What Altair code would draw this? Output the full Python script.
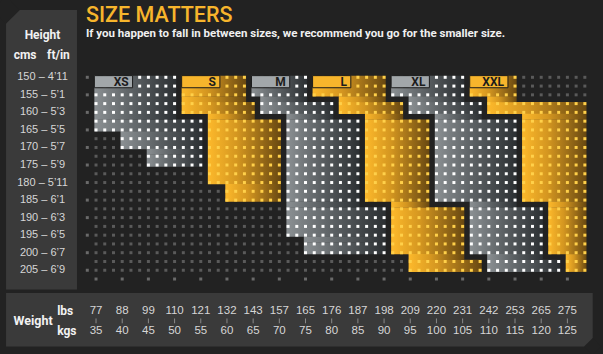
import altair as alt
import pandas as pd

# ---------------- data ----------------
HEIGHT_CM = [150, 155, 160, 165, 170, 175, 180, 185, 190, 195, 200, 205]
HEIGHT_FT = ["4’11", "5’1", "5’3", "5’5", "5’7", "5’9", "5’11", "6’1", "6’3", "6’5", "6’7", "6’9"]
WEIGHT_LBS = [77, 88, 99, 110, 121, 132, 143, 157, 165, 176, 187, 198, 209, 220, 231, 242, 253, 265, 275]
WEIGHT_KGS = [35, 40, 45, 50, 55, 60, 65, 70, 75, 80, 85, 90, 95, 100, 105, 110, 115, 120, 125]

SIZES = ["XS", "S", "M", "L", "XL", "XXL"]
SIZE_TONE = ["grey", "yellow", "grey", "yellow", "grey", "yellow"]
# each band of a size: (first dot row, last dot row, first dot column, last dot column)
# (3 dot columns per weight step, 2 dot rows per height step)
BANDS_XS = [(0, 4, 0, 9), (5, 6, 0, 12), (7, 8, 3, 12), (9, 10, 6, 12)]
BANDS_S = [(0, 2, 10, 17), (3, 4, 10, 18), (5, 12, 13, 21), (13, 14, 15, 21)]
BANDS_M = [(0, 2, 18, 24), (3, 4, 19, 27), (5, 14, 22, 30), (15, 18, 22, 33), (19, 20, 24, 33)]
BANDS_L = [(0, 2, 25, 33), (3, 4, 28, 35), (5, 14, 31, 38), (15, 20, 34, 42), (21, 22, 36, 44)]
BANDS_XL = [(0, 2, 34, 42), (3, 4, 36, 44), (5, 14, 39, 48), (15, 20, 43, 51), (21, 22, 45, 53)]
BANDS_XXL = [(0, 2, 43, 48), (3, 4, 45, 56), (5, 14, 49, 56), (15, 20, 52, 56), (21, 22, 54, 56)]
SIZE_BANDS = [BANDS_XS, BANDS_S, BANDS_M, BANDS_L, BANDS_XL, BANDS_XXL]

TITLE = "SIZE MATTERS"
SUBTITLE = "If you happen to fall in between sizes, we recommend you go for the smaller size."

# ---------------- layout / style ----------------
DOTS_PER_WEIGHT = 3
DOTS_PER_HEIGHT = 2
N_DOT_COLS = DOTS_PER_WEIGHT * (len(WEIGHT_LBS) - 1) + 3
N_DOT_ROWS = DOTS_PER_HEIGHT * (len(HEIGHT_CM) - 1) + 1
P = 0.19  # padding of a region around its dots (dot units)

BG = "#222222"
PANEL = "#3a3a3a"
YELLOW = "#f7b52c"
GREY_GRAD = alt.LinearGradient(
    gradient="linear", x1=0, x2=1, y1=0, y2=0,
    stops=[alt.GradientStop(offset=0, color="#8b9093"),
           alt.GradientStop(offset=0.45, color="#5d6265"),
           alt.GradientStop(offset=1, color="#2c3033")])
YELLOW_GRAD = alt.LinearGradient(
    gradient="linear", x1=0, x2=1, y1=0, y2=0,
    stops=[alt.GradientStop(offset=0, color="#fdb92b"),
           alt.GradientStop(offset=0.4, color="#d49620"),
           alt.GradientStop(offset=1, color="#684811")])

X_SCALE = alt.Scale(domain=[-11.0, 58.08], nice=False, zero=False)
Y_SCALE = alt.Scale(domain=[-8.814, 31.55], nice=False, zero=False, reverse=True)


def xq(f):
    return alt.X(f, type="quantitative", scale=X_SCALE, axis=None)


def yq(f):
    return alt.Y(f, type="quantitative", scale=Y_SCALE, axis=None)


# ---------------- derived tables ----------------
band_rows = []
for size, tone, bands in zip(SIZES, SIZE_TONE, SIZE_BANDS):
    for r1, r2, ka, kb in bands:
        band_rows.append(dict(size=size, tone=tone, x=ka - P, x2=kb + P, y=r1 - P, y2=r2 + P))
    for b1, b2 in zip(bands, bands[1:]):
        lo, hi = max(b1[2], b2[2]), min(b1[3], b2[3])
        if lo <= hi:
            band_rows.append(dict(size=size, tone=tone, x=lo - P, x2=hi + P,
                                  y=b1[1] + P - 0.03, y2=b2[0] - P + 0.03))
bands_df = pd.DataFrame(band_rows)


def tone_at(k, j):
    for tone, bands in zip(SIZE_TONE, SIZE_BANDS):
        for r1, r2, ka, kb in bands:
            if r1 <= j <= r2 and ka <= k <= kb:
                return tone
    return "bg"


dot_rows = []
for j in range(N_DOT_ROWS):
    for k in range(N_DOT_COLS):
        dot_rows.append(dict(k=k, j=j, tone=tone_at(k, j)))
for r in range(len(HEIGHT_CM)):
    dot_rows.append(dict(k=-1, j=DOTS_PER_HEIGHT * r, tone="tick"))
for i in range(len(WEIGHT_LBS)):
    dot_rows.append(dict(k=DOTS_PER_WEIGHT * i, j=N_DOT_ROWS, tone="tick"))
dots_df = pd.DataFrame(dot_rows)

box_rows = []
for size, tone, bands in zip(SIZES, SIZE_TONE, SIZE_BANDS):
    k0 = bands[0][2]
    box_rows.append(dict(size=size, tone=tone, x=k0 - P, x2=k0 + 4 + P, y=-P, y2=1 + P,
                         tx=k0 + 4 + P - 0.45, ty=0.5))
boxes_df = pd.DataFrame(box_rows)

# side panels (rectangles) and their cut corners (diamonds in background colour)
panel_df = pd.DataFrame(dict(
    x=[-10.31, -10.31], x2=[-2.18, 56.9], y=[-7.67, 24.6], y2=[24.2, 30.7]))
corner_df = pd.DataFrame(dict(x=[-10.31, 56.9], y=[-7.67, 30.7], s=[760, 300]))

height_df = pd.DataFrame(dict(
    x=[-6.13] * len(HEIGHT_CM),
    y=[DOTS_PER_HEIGHT * r for r in range(len(HEIGHT_CM))],
    t=[f"{c} – {f}" for c, f in zip(HEIGHT_CM, HEIGHT_FT)]))

Y_LBS, Y_KGS, Y_TICK0, Y_TICK1 = 26.65, 28.95, 27.5, 28.05
weight_df = pd.DataFrame(dict(
    x=[DOTS_PER_WEIGHT * i for i in range(len(WEIGHT_LBS))] * 2,
    y=[Y_LBS] * len(WEIGHT_LBS) + [Y_KGS] * len(WEIGHT_KGS),
    t=[str(v) for v in WEIGHT_LBS] + [str(v) for v in WEIGHT_KGS]))
tick_df = pd.DataFrame(dict(
    x=[DOTS_PER_WEIGHT * i for i in range(len(WEIGHT_LBS))],
    y=[Y_TICK0] * len(WEIGHT_LBS), y2=[Y_TICK1] * len(WEIGHT_LBS)))

head_df = pd.DataFrame(dict(
    x=[-6.13, -8.13, -4.3],
    y=[-4.82, -2.55, -2.55],
    t=["Height", "cms", "ft/in"]))
wlab_df = pd.DataFrame(dict(x=[-4.45, -4.45], y=[Y_LBS, Y_KGS], t=["lbs", "kgs"]))
wtitle_df = pd.DataFrame(dict(x=[-9.45], y=[27.8], t=["Weight"]))
title_df = pd.DataFrame(dict(x=[-1.15], y=[-6.3], t=[TITLE]))
sub_df = pd.DataFrame(dict(x=[-1.15], y=[-4.55], t=[SUBTITLE]))

# ---------------- layers ----------------
panels = alt.Chart(panel_df).mark_rect(color=PANEL).encode(
    x=xq("x"), x2="x2", y=yq("y"), y2="y2")
corners = alt.Chart(corner_df).mark_point(
    shape="diamond", filled=True, color=BG, opacity=1, strokeWidth=0).encode(
    x=xq("x"), y=yq("y"), size=alt.Size("s:Q", scale=None, legend=None))

grey_bands = alt.Chart(bands_df[bands_df.tone == "grey"]).mark_rect(color=GREY_GRAD).encode(
    x=xq("x"), x2="x2", y=yq("y"), y2="y2")
yellow_bands = alt.Chart(bands_df[bands_df.tone == "yellow"]).mark_rect(color=YELLOW_GRAD).encode(
    x=xq("x"), x2="x2", y=yq("y"), y2="y2")

dots = alt.Chart(dots_df).mark_square(size=9, strokeWidth=0).encode(
    x=xq("k"), y=yq("j"),
    color=alt.Color("tone:N", legend=None, scale=alt.Scale(
        domain=["bg", "tick", "grey", "yellow"],
        range=["#5a5a5a", "#6a6a6a", "#ffffff", "#ffd04a"])),
    opacity=alt.Opacity("tone:N", legend=None, scale=alt.Scale(
        domain=["bg", "tick", "grey", "yellow"], range=[1, 1, 0.32, 0.92])))

grey_boxes = alt.Chart(boxes_df[boxes_df.tone == "grey"]).mark_rect(
    color="#a2a7aa", stroke="#1a1a1a", strokeWidth=1).encode(
    x=xq("x"), x2="x2", y=yq("y"), y2="y2")
yellow_boxes = alt.Chart(boxes_df[boxes_df.tone == "yellow"]).mark_rect(
    color=YELLOW, stroke="#1a1a1a", strokeWidth=1).encode(
    x=xq("x"), x2="x2", y=yq("y"), y2="y2")
box_text = alt.Chart(boxes_df).mark_text(
    font="Roboto", fontWeight="bold", fontSize=12, color="#1c1c1c",
    align="right", baseline="middle").encode(x=xq("tx"), y=yq("ty"), text="size:N")

height_text = alt.Chart(height_df).mark_text(
    font="Liberation Sans", fontSize=11, color="#d6d6d6", align="center", baseline="middle"
).encode(x=xq("x"), y=yq("y"), text="t:N")
weight_text = alt.Chart(weight_df).mark_text(
    font="Liberation Sans", fontSize=11.5, color="#d6d6d6", align="center", baseline="middle"
).encode(x=xq("x"), y=yq("y"), text="t:N")
ticks = alt.Chart(tick_df).mark_rule(color="#8a8a8a", strokeWidth=1).encode(
    x=xq("x"), y=yq("y"), y2="y2")
head_text = alt.Chart(head_df).mark_text(
    font="Roboto", fontWeight="bold", fontSize=12, color="#f2f2f2", align="center", baseline="middle"
).encode(x=xq("x"), y=yq("y"), text="t:N")
wlab_text = alt.Chart(wlab_df).mark_text(
    font="Roboto", fontWeight="bold", fontSize=12, color="#f2f2f2", align="left", baseline="middle"
).encode(x=xq("x"), y=yq("y"), text="t:N")
wtitle_text = alt.Chart(wtitle_df).mark_text(
    font="Roboto", fontWeight="bold", fontSize=12.5, color="#f2f2f2", align="left", baseline="middle"
).encode(x=xq("x"), y=yq("y"), text="t:N")
title_text = alt.Chart(title_df).mark_text(
    font="Roboto", fontWeight=500, fontSize=21.5, color=YELLOW, align="left", baseline="alphabetic"
).encode(x=xq("x"), y=yq("y"), text="t:N")
sub_text = alt.Chart(sub_df).mark_text(
    font="Roboto", fontWeight="bold", fontSize=11.5, color="#f0f0f0", align="left", baseline="alphabetic"
).encode(x=xq("x"), y=yq("y"), text="t:N")

chart = alt.layer(
    panels, corners, grey_bands, yellow_bands, dots, grey_boxes, yellow_boxes, box_text,
    height_text, weight_text, ticks, head_text, wlab_text, wtitle_text, title_text, sub_text
).properties(
    width=603, height=354, padding=0, autosize=alt.AutoSizeParams(type="none"),
    background=BG
).configure_view(stroke=None)

chart.save("out.html", embed_options={"renderer": "svg", "actions": False})
